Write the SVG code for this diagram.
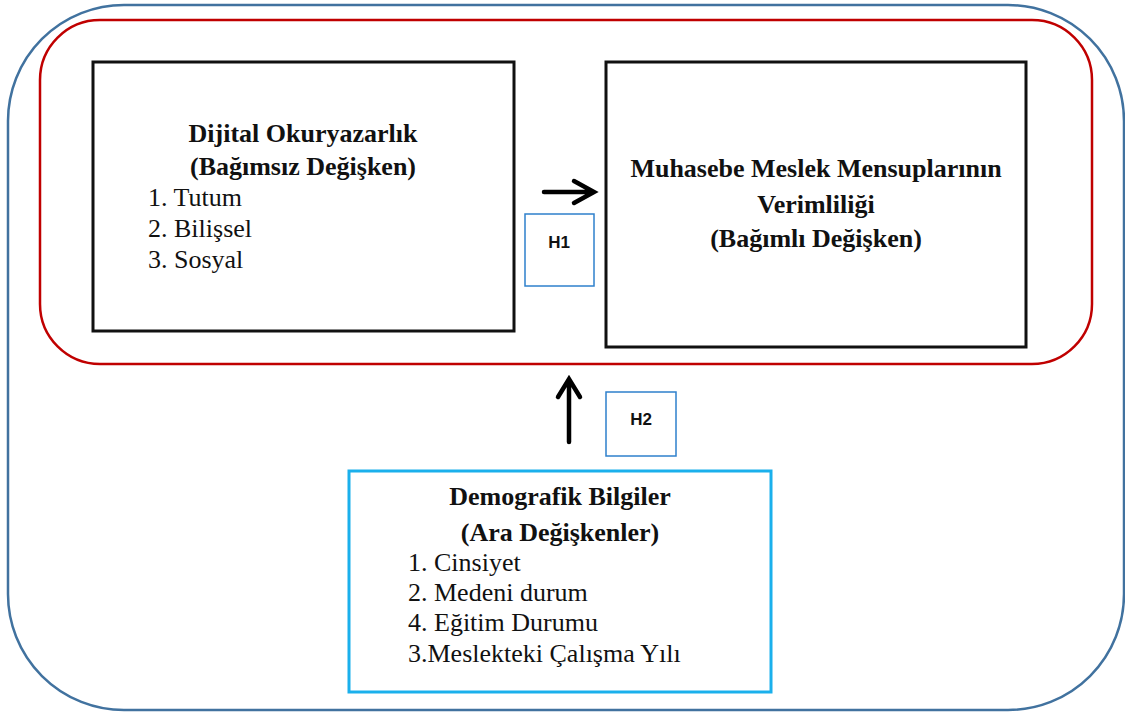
<svg xmlns="http://www.w3.org/2000/svg" width="1125" height="716" viewBox="0 0 1125 716">
<style>
.t{font-family:"Liberation Serif","Times New Roman",serif;font-size:26px;fill:#111}
.b{font-weight:bold;text-anchor:middle}
.h{font-family:"Liberation Sans",Arial,sans-serif;font-size:17px;font-weight:bold;fill:#111;text-anchor:middle}
.box{fill:#fff;stroke:#111;stroke-width:3}
.hb{fill:#fff;stroke:#2E80CC;stroke-width:1.5}
.arr{fill:none;stroke:#000;stroke-width:4.5;stroke-linecap:round;stroke-linejoin:miter}
</style>
<rect width="1125" height="716" fill="#fff"/>
<g id="outer"><rect x="8" y="5" width="1116" height="705" rx="116" ry="116" fill="none" stroke="#41729F" stroke-width="2.5"/></g>
<g id="group"><rect x="40" y="20" width="1052" height="344" rx="60" ry="60" fill="none" stroke="#C00000" stroke-width="2.5"/></g>
<g id="independent">
<rect class="box" x="93" y="62" width="421" height="269"/>
<text class="t b" x="303" y="142">Dijital Okuryazarlık</text>
<text class="t b" x="303" y="175">(Bağımsız Değişken)</text>
<text class="t" x="148" y="206">1. Tutum</text>
<text class="t" x="148" y="237">2. Bilişsel</text>
<text class="t" x="148" y="268">3. Sosyal</text>
</g>
<g id="dependent">
<rect class="box" x="606" y="62" width="420" height="285"/>
<text class="t b" x="816" y="177">Muhasebe Meslek Mensuplarının</text>
<text class="t b" x="816" y="213">Verimliliği</text>
<text class="t b" x="816" y="247">(Bağımlı Değişken)</text>
</g>
<g id="h1">
<rect class="hb" x="525" y="214" width="69" height="72"/>
<text class="h" x="559" y="248">H1</text>
</g>
<g id="h2">
<rect class="hb" x="606" y="392" width="70" height="64"/>
<text class="h" x="641" y="425">H2</text>
</g>
<g id="moderator">
<rect x="349" y="471" width="422" height="221" fill="#fff" stroke="#1AB0EC" stroke-width="3"/>
<text class="t b" x="560" y="505">Demografik Bilgiler</text>
<text class="t b" x="560" y="541">(Ara Değişkenler)</text>
<text class="t" x="408" y="571">1. Cinsiyet</text>
<text class="t" x="408" y="601">2. Medeni durum</text>
<text class="t" x="408" y="631">4. Eğitim  Durumu</text>
<text class="t" x="408" y="662">3.Meslekteki Çalışma Yılı</text>
</g>
<g id="connectors">
<path class="arr" d="M544 192 H594 M574 181 L594 192 L574 203"/>
<path class="arr" d="M569 442 V380 M558 397 L569 379 L580 397"/>
</g>
</svg>
